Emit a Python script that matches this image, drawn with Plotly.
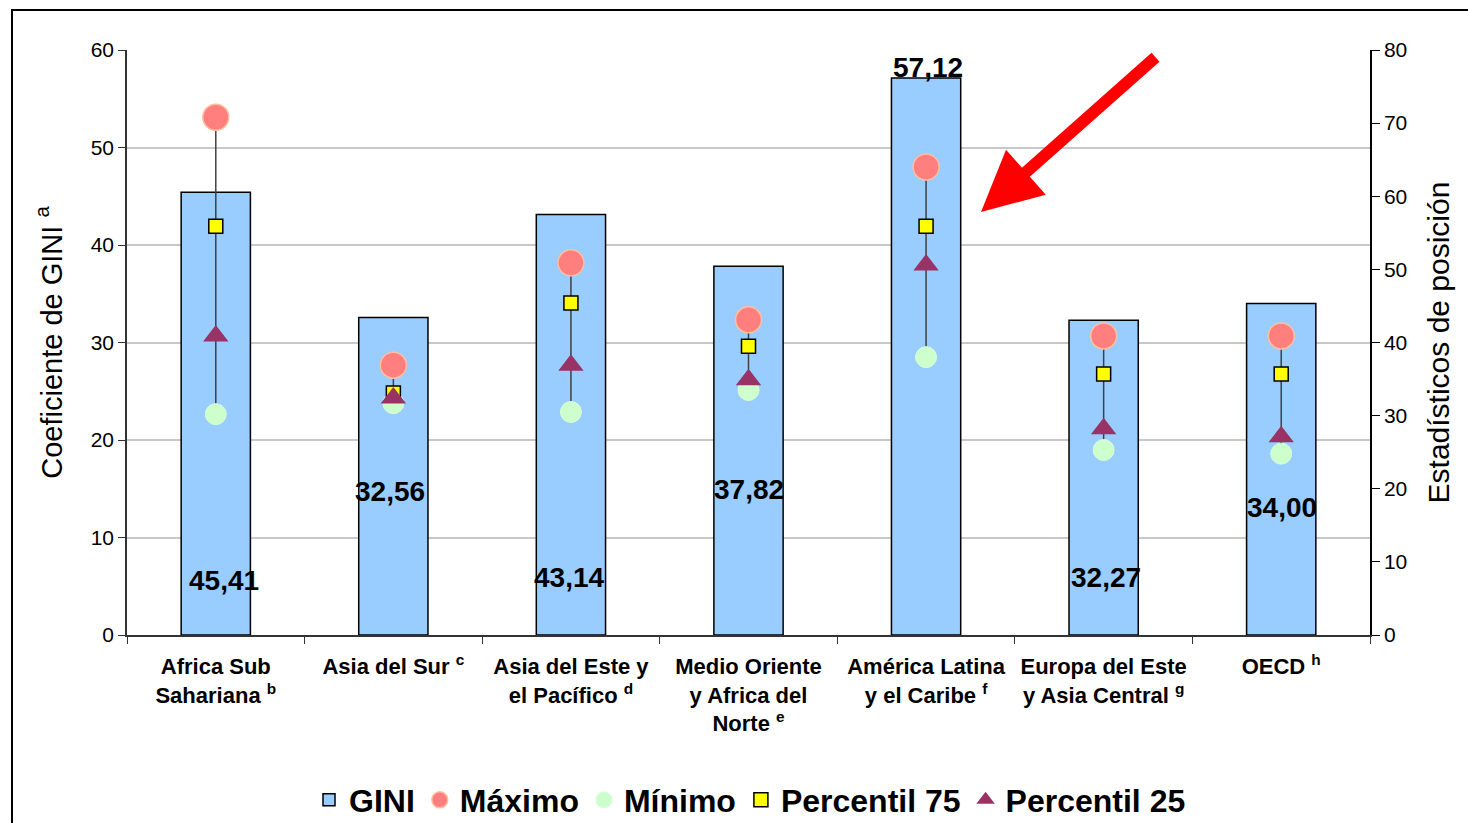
import plotly.graph_objects as go

# Regions and their GINI coefficients (left axis)
regiones = [
    "Africa Sub<br>Sahariana <sup>b</sup>",
    "Asia del Sur <sup>c</sup>",
    "Asia del Este y<br>el Pacífico <sup>d</sup>",
    "Medio Oriente<br>y Africa del<br>Norte <sup>e</sup>",
    "América Latina<br>y el Caribe <sup>f</sup>",
    "Europa del Este<br>y Asia Central <sup>g</sup>",
    "OECD <sup>h</sup>",
]
gini = [45.41, 32.56, 43.14, 37.82, 57.12, 32.27, 34.00]

# Position statistics within each region (right axis)
maximo = [70.8, 36.9, 50.9, 43.1, 64.0, 40.9, 40.9]
minimo = [30.2, 31.7, 30.5, 33.5, 38.0, 25.3, 24.8]
percentil_75 = [55.9, 33.1, 45.4, 39.5, 55.9, 35.7, 35.7]
percentil_25 = [40.9, 32.4, 36.9, 34.9, 50.6, 28.2, 27.1]

# Where each GINI value label sits (left-axis units) and its horizontal nudge
label_y = [5.6, 14.7, 5.9, 14.9, 58.2, 5.9, 13.1]
label_dx = [8, -3, -2, 0, 2, 2, 1]

FONT = "Liberation Sans, Arial, sans-serif"

fig = go.Figure()

fig.add_trace(go.Bar(
    x=regiones, y=gini, name="GINI", width=0.39,
    marker=dict(color="#99CCFF", line=dict(color="#000000", width=1.5)),
    yaxis="y",
))

# High-low lines from the minimum to the maximum
hx, hy = [], []
for r, lo, hi in zip(regiones, minimo, maximo):
    hx += [r, r, None]
    hy += [lo, hi, None]
fig.add_trace(go.Scatter(
    x=hx, y=hy, mode="lines", line=dict(color="#404040", width=1.5),
    showlegend=False, hoverinfo="skip", yaxis="y2",
))

fig.add_trace(go.Scatter(
    x=regiones, y=maximo, name="Máximo", mode="markers", yaxis="y2",
    marker=dict(symbol="circle", size=26, color="#FF7F7F",
                line=dict(color="#FFBF9F", width=1.5)),
))
fig.add_trace(go.Scatter(
    x=regiones, y=minimo, name="Mínimo", mode="markers", yaxis="y2",
    marker=dict(symbol="circle", size=21, color="#CCFFCC",
                line=dict(color="#D8FFD8", width=1)),
))
fig.add_trace(go.Scatter(
    x=regiones, y=percentil_75, name="Percentil 75", mode="markers", yaxis="y2",
    marker=dict(symbol="square", size=14, color="#FFFF00",
                line=dict(color="#000000", width=1.5)),
))
fig.add_trace(go.Scatter(
    x=regiones, y=percentil_25, name="Percentil 25", mode="markers", yaxis="y2",
    marker=dict(symbol="triangle-up", size=22, color="#993366",
                line=dict(color="#993366", width=0)),
))

annotations = []
for r, v, ly, dx in zip(regiones, gini, label_y, label_dx):
    annotations.append(dict(
        x=r, y=ly, xref="x", yref="y", text=f"{v:.2f}".replace(".", ","),
        showarrow=False, xshift=dx,
        font=dict(family=FONT, size=28, color="#000000", weight="bold"),
    ))

# Plot-area margins (pixels) and helpers to place items in paper space
L, R, T, B = 127, 98, 50, 188
W, H = 1468 - L - R, 823 - T - B


def px(xp):
    return (xp - L) / W


def py(yp):
    return (823 - B - yp) / H


# Red pointer arrow towards Latin America
annotations.append(dict(
    x=px(981), y=py(212), xref="paper", yref="paper",
    ax=1157 - 981, ay=56 - 212, axref="pixel", ayref="pixel",
    showarrow=True, arrowhead=2, arrowsize=1, arrowwidth=12,
    arrowcolor="#FF0000", text="",
))

shapes = [dict(
    type="rect", xref="paper", yref="paper",
    x0=px(12), x1=px(1490), y0=py(10), y1=py(840),
    line=dict(color="#000000", width=2), fillcolor="rgba(0,0,0,0)",
)]

fig.update_layout(
    width=1468, height=823,
    margin=dict(l=L, r=R, t=T, b=B, autoexpand=False),
    paper_bgcolor="#FFFFFF", plot_bgcolor="#FFFFFF",
    font=dict(family=FONT, color="#000000"),
    showlegend=True,
    legend=dict(
        orientation="h", x=px(750), xanchor="center", y=py(800), yanchor="middle",
        font=dict(family=FONT, size=32, color="#000000", weight="bold"),
        itemwidth=30, tracegroupgap=0, bgcolor="rgba(0,0,0,0)",
    ),
    xaxis=dict(
        showline=True, linecolor="#333333", linewidth=1.5,
        ticks="outside", ticklen=7, tickcolor="#333333", tickson="boundaries",
        tickfont=dict(family=FONT, size=22, color="#000000", weight="bold"),
        showgrid=False, ticklabelstandoff=11, automargin=False,
    ),
    yaxis=dict(
        range=[0, 60], dtick=10, showline=True, linecolor="#333333", linewidth=1.5,
        ticks="outside", ticklen=7, tickcolor="#333333", automargin=False,
        showgrid=True, gridcolor="#C8C8C8", gridwidth=1.5, zeroline=False,
        tickfont=dict(family=FONT, size=21, color="#000000"),
        title=dict(text="Coeficiente de GINI <sup>a</sup>",
                   font=dict(family=FONT, size=29, color="#000000"), standoff=20),
    ),
    yaxis2=dict(
        range=[0, 80], dtick=10, overlaying="y", side="right",
        showline=True, linecolor="#000000", linewidth=1.5, automargin=False,
        ticks="outside", ticklen=8, tickcolor="#000000",
        showgrid=False, zeroline=False,
        tickfont=dict(family=FONT, size=21, color="#000000"),
        title=dict(text="Estadísticos de posición",
                   font=dict(family=FONT, size=30, color="#000000"), standoff=22),
    ),
    annotations=annotations,
    shapes=shapes,
)

fig.write_html("out.html")
